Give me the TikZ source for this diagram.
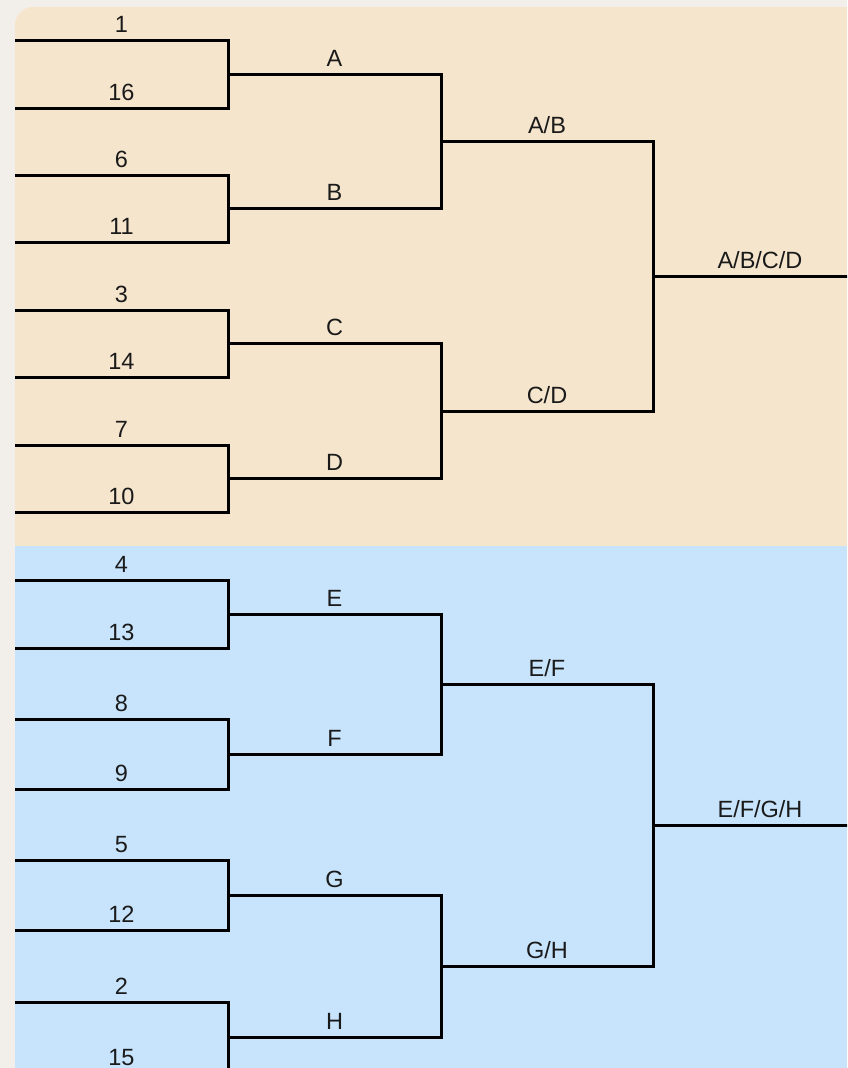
\documentclass[tikz,border=0pt]{standalone}
\usepackage{fontspec}
\setmainfont{Liberation Sans}
\usepackage{xcolor}
\definecolor{pagebg}{HTML}{F2EFEA}
\definecolor{topbg}{HTML}{F5E5CD}
\definecolor{botbg}{HTML}{C7E4FC}
\definecolor{ink}{HTML}{1A1A1A}

\begin{document}
\begin{tikzpicture}[x=1pt,y=-1pt,
  bracket/.style={line width=3pt, black, line cap=rect},
  lbl/.style={anchor=base, yshift=8pt, inner sep=0pt, text=ink, font=\fontsize{23.5}{28}\selectfont}]
\clip (0,0) rectangle (847,1068);
\fill[pagebg] (0,0) rectangle (847,1068);
\fill[topbg] (15,546) [rounded corners=18pt] -- (15,7) [sharp corners] -- (847,7) -- (847,546) -- cycle;
\fill[botbg] (15,546) rectangle (847,1068);

\coordinate (col2) at (441,0);
\coordinate (col3) at (653,0);
\coordinate (col4) at (867,0);

% first round
\foreach \seed/\y in {1/40,16/108,6/175,11/242,3/310,14/377,7/445,10/512,4/580,13/648,8/719,9/789,5/860,12/930,2/1002,15/1073}{
  \coordinate (in\seed) at (16.5,\y);
  \coordinate (out\seed) at (228,\y);
  \draw[bracket] (in\seed) -- node[lbl, xshift=-0.75pt] (lbl\seed) {\seed} (out\seed);
}

% second round
\foreach \m/\a/\b in {A/1/16,B/6/11,C/3/14,D/7/10,E/4/13,F/8/9,G/5/12,H/2/15}{
  \draw[bracket] (out\a) -- coordinate (j\m) (out\b);
  \draw[bracket] (j\m) -- node[lbl] (lbl\m) {\m} (j\m -| col2) coordinate (out\m);
}

% third round
\foreach \a/\b in {A/B,C/D,E/F,G/H}{
  \draw[bracket] (out\a) -- coordinate (j\a\b) (out\b);
  \draw[bracket] (j\a\b) -- node[lbl] (lbl\a\b) {\a/\b} (j\a\b -| col3) coordinate (out\a\b);
}

% last round
\draw[bracket] (outAB) -- coordinate (jABCD) (outCD);
\draw[bracket] (jABCD) -- node[lbl] (lblABCD) {A/B/C/D} (jABCD -| col4);
\draw[bracket] (outEF) -- coordinate (jEFGH) (outGH);
\draw[bracket] (jEFGH) -- node[lbl] (lblEFGH) {E/F/G/H} (jEFGH -| col4);

\end{tikzpicture}
\end{document}
